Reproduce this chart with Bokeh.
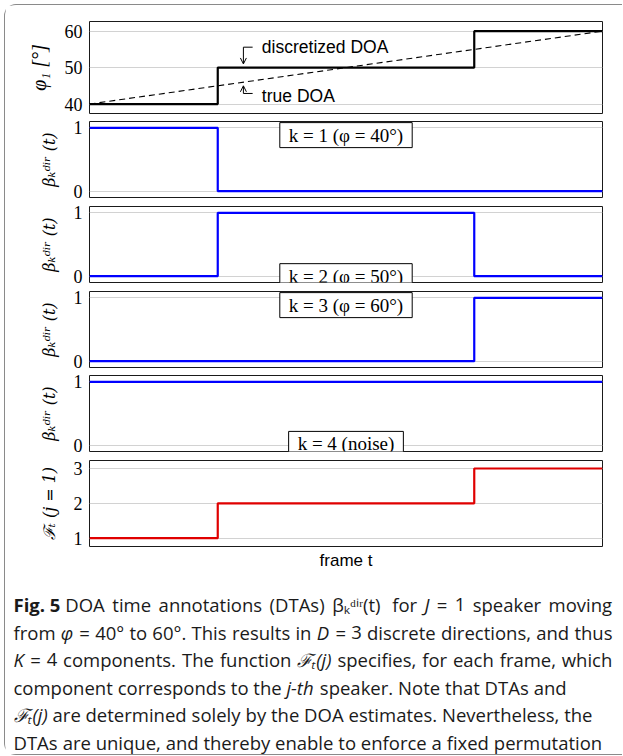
from bokeh.plotting import figure
from bokeh.layouts import column
from bokeh.models import Range1d, FixedTicker, Arrow, OpenHead
from bokeh.core.properties import value
from bokeh.embed import file_html
from bokeh.resources import INLINE

# ---------------- data ----------------
frame_edges = [0, 25, 75, 100]
discretized_doa = [40, 50, 60, 60]
true_doa_frames = [0, 100]
true_doa = [40, 60]
beta_k1 = [1, 0, 0, 0]
beta_k2 = [0, 1, 0, 0]
beta_k3 = [0, 0, 1, 1]
beta_k4 = [1, 1, 1, 1]
component_of_speaker = [1, 2, 3, 3]
doa_ticks = [40, 50, 60]
beta_ticks = [0, 1]
comp_ticks = [1, 2, 3]
box_labels = ["k = 1 (φ = 40°)", "k = 2 (φ = 50°)", "k = 3 (φ = 60°)", "k = 4 (noise)"]
caption_bold = "Fig. 5"
caption_lines = [
    "DOA time annotations (DTAs) βₖᵈⁱʳ(t) for J = 1 speaker moving",
    "from φ = 40° to 60°. This results in D = 3 discrete directions, and thus",
    "K = 4 components. The function ℱₜ(j) specifies, for each frame, which",
    "component corresponds to the j-th speaker. Note that DTAs and",
    "ℱₜ(j) are determined solely by the DOA estimates. Nevertheless, the",
    "DTAs are unique, and thereby enable to enforce a fixed permutation",
]
caption_justified = [True, True, True, False, False, False]
caption_italic_words = {"J", "φ", "D", "K", "ℱₜ(j)", "j-th"}

# ---------------- layout constants ----------------
W = 617
FL = 84
FW = 513
FR = W - FL - FW
SERIF = "Liberation Serif"
LSERIF = "DejaVu Serif"
SANS = "Liberation Sans"
CAP_FONT = "Open Sans"
BLUE = "#0000ff"
RED = "#e00000"

# approximate Open Sans advance widths (em) used to justify caption words
EM = {' ': 0.26, 'a': 0.556, 'b': 0.613, 'c': 0.48, 'd': 0.613, 'e': 0.561, 'f': 0.336,
      'g': 0.546, 'h': 0.614, 'i': 0.258, 'j': 0.258, 'k': 0.529, 'l': 0.258, 'm': 0.932,
      'n': 0.614, 'o': 0.603, 'p': 0.613, 'q': 0.613, 'r': 0.407, 's': 0.477, 't': 0.353,
      'u': 0.614, 'v': 0.501, 'w': 0.778, 'x': 0.524, 'y': 0.501, 'z': 0.468,
      'A': 0.633, 'D': 0.73, 'O': 0.78, 'T': 0.556, 'J': 0.268, 'K': 0.59, 'F': 0.52,
      'N': 0.76, '(': 0.296, ')': 0.296, '.': 0.267, ',': 0.249, '=': 0.572, '°': 0.428,
      '-': 0.322, 'φ': 0.72, 'β': 0.6, 'ₖ': 0.4, 'ᵈ': 0.4, 'ⁱ': 0.2, 'ʳ': 0.3,
      'ℱ': 0.7, 'ₜ': 0.3}


def est_width(word, size):
    return sum(EM.get(ch, 0.572 if ch.isdigit() else 0.55) for ch in word) * size


def make_panel(height, top, bottom, yr, ticks, ylabel, label_font, label_size, with_x=False):
    p = figure(width=W, height=height, output_backend="svg", toolbar_location=None,
               x_range=Range1d(0, 100), y_range=Range1d(*yr),
               x_axis_location="below" if with_x else None,
               min_border_left=FL, min_border_right=FR,
               min_border_top=top, min_border_bottom=bottom)
    p.outline_line_color = "#1a1a1a"
    p.outline_line_width = 1
    p.outline_line_alpha = 1
    p.border_fill_color = "white"
    p.background_fill_color = "white"
    p.xgrid.visible = False
    p.yaxis.ticker = FixedTicker(ticks=ticks)
    p.ygrid.grid_line_color = "#d2d2d2"
    p.ygrid.grid_line_width = 1
    p.yaxis.axis_line_color = None
    p.yaxis.major_tick_line_color = None
    p.yaxis.minor_tick_line_color = None
    p.yaxis.major_tick_out = 0
    p.yaxis.major_tick_in = 0
    p.yaxis.minor_tick_out = 0
    p.yaxis.major_label_text_font = SERIF
    p.yaxis.major_label_text_font_size = "18px"
    p.yaxis.major_label_text_color = "black"
    p.yaxis.major_label_standoff = 7
    p.yaxis.axis_label = ylabel
    p.yaxis.axis_label_text_font = label_font
    p.yaxis.axis_label_text_font_size = label_size
    p.yaxis.axis_label_text_font_style = "italic"
    p.yaxis.axis_label_text_color = "black"
    p.yaxis.axis_label_standoff = 12
    return p


# Panel 1: DOA
p1 = make_panel(112, 16, 4, (37.4, 62.65), doa_ticks, "φ₁ [°]", SERIF, "20px")
p1.line(true_doa_frames, true_doa, line_color="black", line_width=1.1, line_dash="6 4")
p1.step(frame_edges, discretized_doa, mode="after", line_color="black", line_width=2.2)

ann_x = 30.0
slope = (true_doa[1] - true_doa[0]) / (true_doa_frames[1] - true_doa_frames[0])
true_at = true_doa[0] + slope * (ann_x - true_doa_frames[0])
disc_at = discretized_doa[1]
p1.segment(x0=[ann_x, ann_x], y0=[55.6, 42.9], x1=[ann_x + 1.8, ann_x + 1.8], y1=[55.6, 42.9],
           line_color="black", line_width=1)
p1.add_layout(Arrow(end=OpenHead(size=6, line_width=1, line_color="black"),
                    x_start=ann_x, y_start=55.6, x_end=ann_x, y_end=disc_at + 1.0,
                    line_color="black", line_width=1))
p1.add_layout(Arrow(end=OpenHead(size=6, line_width=1, line_color="black"),
                    x_start=ann_x, y_start=42.9, x_end=ann_x, y_end=true_at - 1.0,
                    line_color="black", line_width=1))
p1.text(x=[ann_x + 3.6, ann_x + 3.6], y=[55.6, 42.3], text=["discretized DOA", "true DOA"],
        text_font=value(SANS), text_font_size="17.5px", text_align="left",
        text_baseline="middle", text_color="black")

beta_range = (-0.1, 1.1)
beta_label = "βₖᵈⁱʳ (t)"
box_y = [0.885, 0.0, 0.885, 0.02]
panels = []
specs = [(84, 4, beta_k1), (85, 5, beta_k2), (85, 5, beta_k3), (84, 4, beta_k4)]
for i, (h, top, series) in enumerate(specs):
    p = make_panel(h, top, 4, beta_range, beta_ticks, beta_label, LSERIF, "16px")
    p.step(frame_edges, series, mode="after", line_color=BLUE, line_width=2.2)
    p.text(x=[50], y=[box_y[i]], text=[box_labels[i]], text_font=value(SERIF),
           text_font_size="19px", text_align="center", text_baseline="middle",
           text_color="black", background_fill_color="white",
           border_line_color="black", border_line_width=1,
           padding=dict(left=9, right=9, top=2, bottom=2))
    panels.append(p)

# Panel 6: component index
p6 = make_panel(117, 5, 22, (0.76, 3.23), comp_ticks, "ℱₜ (j = 1)", LSERIF, "16px", with_x=True)
p6.step(frame_edges, component_of_speaker, mode="after", line_color=RED, line_width=2.2)
p6.xaxis.ticker = FixedTicker(ticks=[])
p6.xaxis.axis_line_color = None
p6.xaxis.major_tick_line_color = None
p6.xaxis.minor_tick_line_color = None
p6.xaxis.major_tick_out = 0
p6.xaxis.major_label_text_font_size = "0px"
p6.xaxis.axis_label = "frame t"
p6.xaxis.axis_label_text_font = SANS
p6.xaxis.axis_label_text_font_size = "17px"
p6.xaxis.axis_label_text_font_style = "normal"
p6.xaxis.axis_label_text_color = "black"
p6.xaxis.axis_label_standoff = 4

# Caption: its own frame covers the whole canvas (1 data unit = 1 px)
CH = 182
cap = figure(width=W, height=CH, output_backend="svg", toolbar_location=None,
             x_range=Range1d(0, W), y_range=Range1d(CH, 0),
             x_axis_location=None, y_axis_location=None, min_border=0,
             frame_align=False)
cap.outline_line_color = None
cap.grid.visible = False
FSZ = 18.5
FS = "18.5px"
cap_x0 = 8
cap_x1 = 607
bold_w = 47
lh = 27.6
y0 = 32
cap.text(x=[cap_x0], y=[y0], text=[caption_bold], text_font=value(CAP_FONT),
         text_font_size=FS, text_font_style="bold", text_baseline="middle",
         text_color="#1a1a1a")

wx, wy, wt, ws = [], [], [], []
space = EM[' '] * FSZ
for i, line in enumerate(caption_lines):
    words = line.split(" ")
    start = cap_x0 + (bold_w + space if i == 0 else 0)
    widths = [est_width(w, FSZ) for w in words]
    gap = space
    if caption_justified[i] and len(words) > 1:
        gap = (cap_x1 - start - sum(widths)) / (len(words) - 1)
    x = start
    for w, wd in zip(words, widths):
        wx.append(x)
        wy.append(y0 + i * lh)
        wt.append(w)
        ws.append("italic" if w in caption_italic_words else "normal")
        x += wd + gap
cap.text(x=wx, y=wy, text=wt, text_font=value(CAP_FONT), text_font_size=FS,
         text_font_style=ws, text_baseline="middle", text_align="left",
         text_color="#1a1a1a")

layout = column(p1, *panels, p6, cap, margin=(4, 0, 0, 4),
                styles={"border-left": "1px solid #8a8a8a",
                        "border-top": "1px solid #8a8a8a",
                        "border-bottom": "1px solid #8a8a8a",
                        "border-radius": "12px 0 0 12px",
                        "background": "white"})

open("out.html", "w").write(file_html(layout, INLINE, "DTA figure"))
